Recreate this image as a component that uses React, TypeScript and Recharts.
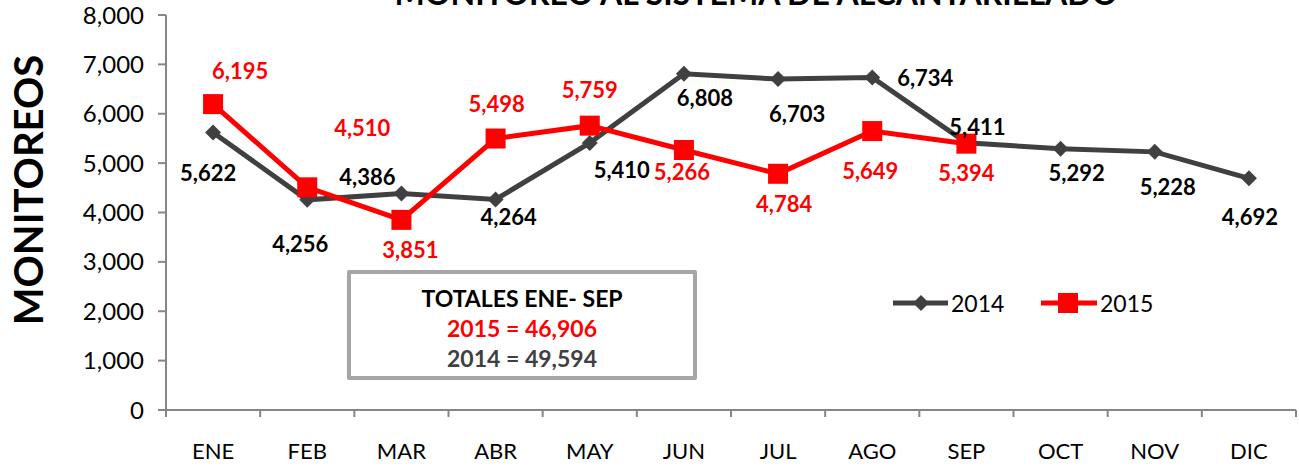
import { LineChart, Line, XAxis, YAxis, LabelList, Legend } from "recharts";

const months = ["ENE", "FEB", "MAR", "ABR", "MAY", "JUN", "JUL", "AGO", "SEP", "OCT", "NOV", "DIC"];
const monitoreos2014 = [5622, 4256, 4386, 4264, 5410, 6808, 6703, 6734, 5411, 5292, 5228, 4692];
const monitoreos2015 = [6195, 4510, 3851, 5498, 5759, 5266, 4784, 5649, 5394];
const yTicks = [0, 1000, 2000, 3000, 4000, 5000, 6000, 7000, 8000];
const total2015 = 46906;
const total2014 = 49594;

const data = months.map((m, i) => ({
  mes: m,
  y2014: monitoreos2014[i] ?? null,
  y2015: monitoreos2015[i] ?? null,
}));

// hand-placed label offsets (dx, dy) like the original spreadsheet chart
const off2014 = [[-5, 40], [-7, 44], [-34, -17], [13, 17], [32, 27], [21, 24], [19, 34], [53, 0], [11, -16], [16, 24], [13, 35], [1, 38]];
const off2015 = [[27, -34], [55, -60], [9, 30], [1, -35], [0, -36], [-2, 22], [6, 30], [-2, 39], [0, 29]];

const FONT = "Lato, 'Open Sans', sans-serif";
const DARK = "#404040";
const RED = "#ff0000";
const AXIS = "#868686";
const TICK_SIZE = 7;
const TICK_MARGIN = 26;

const fmt = (v: number) => v.toLocaleString("en-US");

function Diamond(props: any) {
  const { cx, cy } = props;
  if (cx == null || cy == null) return null;
  const r = 8;
  return <path d={`M${cx},${cy - r}L${cx + r},${cy}L${cx},${cy + r}L${cx - r},${cy}Z`} fill={DARK} />;
}

function Square(props: any) {
  const { cx, cy } = props;
  if (cx == null || cy == null) return null;
  return <rect x={cx - 10} y={cy - 10} width={20} height={20} fill={RED} />;
}

const makeLabel = (offsets: number[][], color: string) => (props: any) => {
  const { x, y, value, index } = props;
  if (value == null) return null;
  const [dx, dy] = offsets[index] || [0, 0];
  return (
    <text x={x + dx} y={y + dy} textAnchor="middle" dominantBaseline="central" fill={color} fontSize={22} fontWeight={700} fontFamily={FONT}>
      {fmt(value)}
    </text>
  );
};

// month label centred in the band, tick marks on the band edges (Excel style)
function MonthTick(props: any) {
  const { x, y, payload, index } = props;
  const half = payload.offset || 1130 / 24;
  const top = y - TICK_SIZE - TICK_MARGIN;
  return (
    <g>
      <line x1={x - half} y1={top} x2={x - half} y2={top + TICK_SIZE} stroke={AXIS} strokeWidth={2} />
      {index === months.length - 1 && <line x1={x + half} y1={top} x2={x + half} y2={top + TICK_SIZE} stroke={AXIS} strokeWidth={2} />}
      <text x={x} y={y} dy="0.71em" textAnchor="middle" fontSize={22} fill="#000" fontFamily={FONT}>
        {payload.value}
      </text>
    </g>
  );
}

function LegendBox() {
  return (
    <svg width={290} height={30}>
      <line x1={3} y1={15} x2={58} y2={15} stroke={DARK} strokeWidth={5} />
      <path d="M31,7L39,15L31,23L23,15Z" fill={DARK} />
      <text x={61} y={15} dominantBaseline="central" fontSize={23} fontFamily={FONT} fill="#000">2014</text>
      <line x1={151} y1={15} x2={207} y2={15} stroke={RED} strokeWidth={5} />
      <rect x={168} y={5} width={20} height={20} fill={RED} />
      <text x={210} y={15} dominantBaseline="central" fontSize={23} fontFamily={FONT} fill="#000">2015</text>
    </svg>
  );
}

export default function App() {
  return (
    <div style={{ position: "absolute", left: 0, top: 0, width: 1299, height: 467, background: "#fff", fontFamily: FONT, overflow: "hidden" }}>
      <LineChart width={1299} height={467} data={data} margin={{ top: 15, right: 3, left: 0, bottom: 0 }}>
        <XAxis
          dataKey="mes"
          scale="band"
          height={57}
          tickSize={TICK_SIZE}
          tickMargin={TICK_MARGIN}
          tick={<MonthTick />}
          axisLine={{ stroke: AXIS, strokeWidth: 2 }}
          tickLine={false}
          interval={0}
        />
        <YAxis
          width={166}
          domain={[0, 8000]}
          ticks={yTicks}
          tickFormatter={fmt}
          tickSize={8}
          tickMargin={14}
          tick={{ fontSize: 24, fill: "#000", fontFamily: FONT }}
          axisLine={{ stroke: AXIS, strokeWidth: 2 }}
          tickLine={{ stroke: AXIS, strokeWidth: 2 }}
        />
        <Legend
          verticalAlign="middle"
          align="center"
          wrapperStyle={{ left: 890, top: 288, width: 290 }}
          content={() => <LegendBox />}
        />
        <Line type="linear" dataKey="y2014" stroke={DARK} strokeWidth={5} dot={<Diamond />} activeDot={false} isAnimationActive={false}>
          <LabelList dataKey="y2014" content={makeLabel(off2014, "#000")} />
        </Line>
        <Line type="linear" dataKey="y2015" stroke={RED} strokeWidth={5} dot={<Square />} activeDot={false} isAnimationActive={false}>
          <LabelList dataKey="y2015" content={makeLabel(off2015, RED)} />
        </Line>
      </LineChart>

      <svg width={1299} height={467} style={{ position: "absolute", left: 0, top: 0, pointerEvents: "none" }}>
        <text x={756} y={5} textAnchor="middle" fontSize={32} fontWeight={700} fill="#000" fontFamily={FONT}>
          MONITOREO AL SISTEMA DE ALCANTARILLADO
        </text>
        <text x={28} y={190} transform="rotate(-90 28 190)" textAnchor="middle" dominantBaseline="central" fontSize={40} fontWeight={700} fill="#000" fontFamily={FONT}>
          MONITOREOS
        </text>
      </svg>

      <div style={{ position: "absolute", left: 347, top: 270, width: 350, height: 110, border: "4px solid #a6a6a6", borderRadius: 2, background: "#fff", textAlign: "center", fontWeight: 700, fontSize: 23, lineHeight: "30px", paddingTop: 9, boxSizing: "border-box" }}>
        <div style={{ color: "#000" }}>TOTALES ENE- SEP</div>
        <div style={{ color: RED }}>2015 = {fmt(total2015)}</div>
        <div style={{ color: DARK }}>2014 = {fmt(total2014)}</div>
      </div>
    </div>
  );
}
